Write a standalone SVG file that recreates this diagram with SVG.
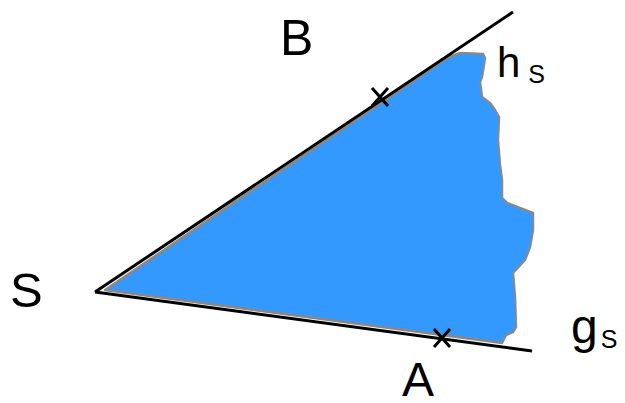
<svg xmlns="http://www.w3.org/2000/svg" width="625" height="403" viewBox="0 0 625 403">
<style>
.region{fill:#3399ff;stroke:#888888;stroke-width:2.5;stroke-linejoin:round}
.ray{stroke:#000;stroke-width:3;fill:none;stroke-linecap:butt}
.mark{stroke:#000;stroke-width:3;fill:none}
.lbl{font-family:"Liberation Sans",Arial,sans-serif;fill:#000}
</style>
<rect width="625" height="403" fill="#fff"/>
<g id="region">
<path class="region" d="M105,290 L447,58 L460,53 L483,54 L485,58 L482,77 L480,82 L482,97 L490,103 L495,110 L499,117 L498,140 L500,165 L502,180 L502,198 L507,203 L533,213 L533,230 L530,247 L525,260 L513,273 L515,297 L516,327 L513,332 L506,335 L502,343 Z"/>
</g>
<g id="connectors">
<line class="ray" x1="95" y1="292" x2="513" y2="12"/>
<line class="ray" x1="95" y1="292" x2="532" y2="351"/>
</g>
<g id="markB">
<path class="mark" d="M372,88 L388,106 M388,88 L372,106"/>
</g>
<g id="markA">
<path class="mark" d="M434,329 L450,347 M450,329 L434,347"/>
</g>
<g id="labelS"><text class="lbl" x="10" y="307" font-size="49">S</text></g>
<g id="labelB"><text class="lbl" x="280" y="55" font-size="50">B</text></g>
<g id="labelA"><text class="lbl" x="402" y="396" font-size="48">A</text></g>
<g id="labelH"><text class="lbl" x="497" y="77" font-size="42">h<tspan font-size="25" dx="8" dy="6">S</tspan></text></g>
<g id="labelG"><text class="lbl" x="571" y="343" font-size="48">g<tspan font-size="25" dx="3" dy="5">S</tspan></text></g>
</svg>
